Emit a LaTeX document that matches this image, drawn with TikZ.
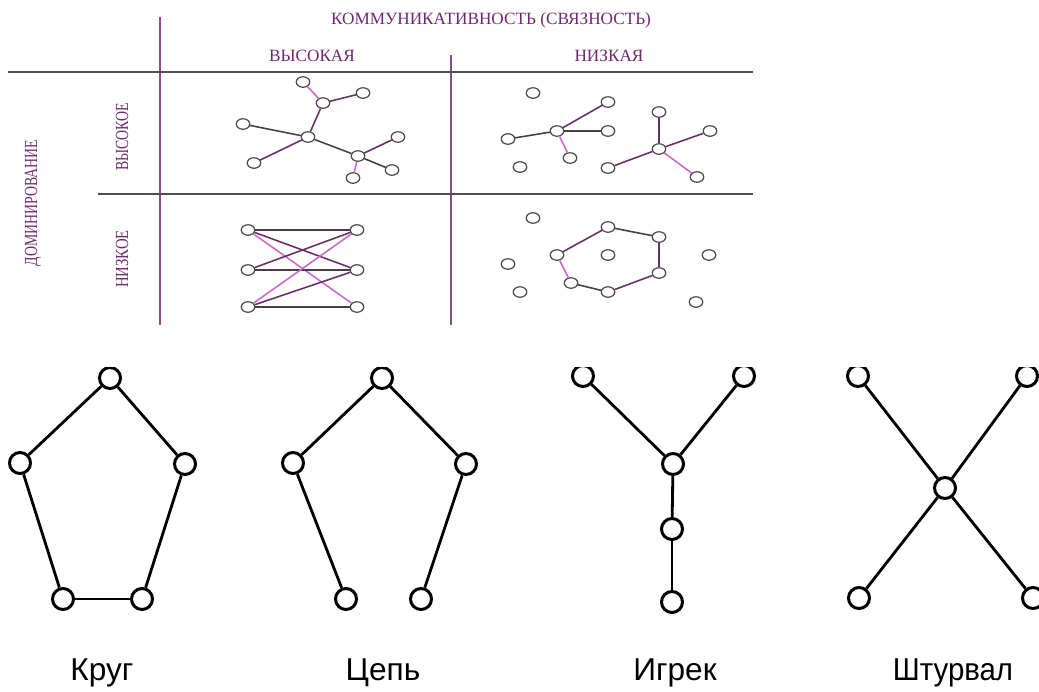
\documentclass[tikz,border=0pt]{standalone}
\usepackage{fontspec}
\usepackage{graphicx}
\setmainfont{Liberation Serif}
\newfontfamily\capfont{Liberation Sans}
\usetikzlibrary{shapes.geometric}
\definecolor{CText}{HTML}{6E2870}
\definecolor{CRule}{HTML}{8E4A8E}
\definecolor{CGrid}{HTML}{4F4F4F}
\definecolor{CDark}{HTML}{4A3C4A}
\definecolor{CPurple}{HTML}{6A2F6A}
\definecolor{CPink}{HTML}{CC6ACC}
\definecolor{CNode}{HTML}{4A4A4A}

\begin{document}
\begin{tikzpicture}[x=0.02cm, y=-0.02cm,
    vtx/.style={ellipse, draw=CNode, fill=white, line width=0.7pt, minimum width=0.27cm, minimum height=0.21cm, inner sep=0pt},
    bigvtx/.style={circle, draw=black, fill=white, line width=1.7pt, minimum size=0.42cm, inner sep=0pt},
    edark/.style={CDark, line width=0.9pt},
    epurple/.style={CPurple, line width=0.9pt},
    epink/.style={CPink, line width=0.9pt},
    bigedge/.style={black, line width=1.6pt},
    head/.style={text=CText, font=\fontsize{9.8}{11}\selectfont, inner sep=0pt},
    sidehead/.style={text=CText, font=\fontsize{10.5}{12}\selectfont, inner sep=0pt, rotate=90},
    capt/.style={font=\capfont\fontsize{18}{20}\selectfont, inner sep=0pt}]
    \useasboundingbox (0,0) rectangle (1039,691);

    % Table rules
    \draw[CRule, line width=0.9pt] (160,17) -- (160,325);
    \draw[CRule, line width=0.9pt] (451,55) -- (451,325);
    \draw[CGrid, line width=0.9pt] (8,72) -- (753,72);
    \draw[CGrid, line width=0.9pt] (98,194) -- (753,194);

    % Headings
    \node[head] (comm) at (491,20) {КОММУНИКАТИВНОСТЬ (СВЯЗНОСТЬ)};
    \node[head] (commhi) at (312,56) {ВЫСОКАЯ};
    \node[head] (commlo) at (609,56) {НИЗКАЯ};
    \node[sidehead] (dom) at (33,203) {\scalebox{0.75}[1]{ДОМИНИРОВАНИЕ}};
    \node[sidehead] (domhi) at (122,137) {\scalebox{0.75}[1]{ВЫСОКОЕ}};
    \node[sidehead] (domlo) at (122,259) {\scalebox{0.8}[1]{НИЗКОЕ}};

    % High communication, high domination
    \node[vtx] (hh1) at (303,82) {};
    \node[vtx] (hh2) at (323,103) {};
    \node[vtx] (hh3) at (363,93) {};
    \node[vtx] (hh4) at (243,124) {};
    \node[vtx] (hh0) at (308,137) {};
    \node[vtx] (hh5) at (254,163) {};
    \node[vtx] (hh6) at (358,156) {};
    \node[vtx] (hh7) at (398,137) {};
    \node[vtx] (hh8) at (392,170) {};
    \node[vtx] (hh9) at (353,178) {};
    \draw[epink] (hh1) -- (hh2);
    \draw[epurple] (hh2) -- (hh3);
    \draw[epurple] (hh2) -- (hh0);
    \draw[edark] (hh4) -- (hh0);
    \draw[epurple] (hh0) -- (hh5);
    \draw[edark] (hh0) -- (hh6);
    \draw[epurple] (hh6) -- (hh7);
    \draw[edark] (hh6) -- (hh8);
    \draw[epink] (hh6) -- (hh9);

    % Low communication, high domination
    \node[vtx] (lh1) at (533,93) {};
    \node[vtx] (lh2) at (608,102) {};
    \node[vtx] (lh0) at (557,131) {};
    \node[vtx] (lh3) at (608,131) {};
    \node[vtx] (lh4) at (508,139) {};
    \node[vtx] (lh5) at (570,158) {};
    \node[vtx] (lh6) at (520,167) {};
    \node[vtx] (lk1) at (659,112) {};
    \node[vtx] (lk2) at (710,131) {};
    \node[vtx] (lk0) at (659,149) {};
    \node[vtx] (lk3) at (608,168) {};
    \node[vtx] (lk4) at (697,177) {};
    \draw[epurple] (lh0) -- (lh2);
    \draw[edark] (lh0) -- (lh3);
    \draw[edark] (lh0) -- (lh4);
    \draw[epink] (lh0) -- (lh5);
    \draw[epurple] (lk0) -- (lk1);
    \draw[epurple] (lk0) -- (lk2);
    \draw[epurple] (lk0) -- (lk3);
    \draw[epink] (lk0) -- (lk4);

    % High communication, low domination
    \node[vtx] (hl1) at (248,230) {};
    \node[vtx] (hl2) at (248,270) {};
    \node[vtx] (hl3) at (248,307) {};
    \node[vtx] (hr1) at (357,230) {};
    \node[vtx] (hr2) at (357,270) {};
    \node[vtx] (hr3) at (357,307) {};
    \draw[edark] (hl1) -- (hr1);
    \draw[epurple] (hl1) -- (hr2);
    \draw[epink] (hl1) -- (hr3);
    \draw[epurple] (hl2) -- (hr1);
    \draw[edark] (hl2) -- (hr2);
    \draw[epink] (hl3) -- (hr1);
    \draw[epurple] (hl3) -- (hr2);
    \draw[edark] (hl3) -- (hr3);

    % Low communication, low domination
    \node[vtx] (ll1) at (533,218) {};
    \node[vtx] (ll2) at (608,227) {};
    \node[vtx] (ll3) at (659,237) {};
    \node[vtx] (ll4) at (557,255) {};
    \node[vtx] (ll5) at (608,255) {};
    \node[vtx] (ll6) at (709,255) {};
    \node[vtx] (ll7) at (508,264) {};
    \node[vtx] (ll8) at (659,273) {};
    \node[vtx] (ll9) at (571,283) {};
    \node[vtx] (ll10) at (520,292) {};
    \node[vtx] (ll11) at (608,292) {};
    \node[vtx] (ll12) at (696,302) {};
    \draw[epurple] (ll4) -- (ll2);
    \draw[edark] (ll2) -- (ll3);
    \draw[epurple] (ll3) -- (ll8);
    \draw[epurple] (ll8) -- (ll11);
    \draw[edark] (ll11) -- (ll9);
    \draw[epink] (ll9) -- (ll4);

    % Network types
    \begin{scope}
    \clip (0,367) rectangle (1039,691);
    % Krug
    \node[bigvtx] (kt) at (110,378) {};
    \node[bigvtx] (kl) at (20,463) {};
    \node[bigvtx] (kr) at (185,464) {};
    \node[bigvtx] (kbl) at (63,599) {};
    \node[bigvtx] (kbr) at (142,599) {};
    \draw[bigedge] (kt) -- (kl);
    \draw[bigedge] (kt) -- (kr);
    \draw[bigedge] (kl) -- (kbl);
    \draw[bigedge] (kr) -- (kbr);
    \draw[bigedge] (kbl) -- (kbr);
    % Tsep
    \node[bigvtx] (ct) at (382,378) {};
    \node[bigvtx] (cl) at (293,463) {};
    \node[bigvtx] (cr) at (466,464) {};
    \node[bigvtx] (cbl) at (346,599) {};
    \node[bigvtx] (cbr) at (421,599) {};
    \draw[bigedge] (ct) -- (cl);
    \draw[bigedge] (ct) -- (cr);
    \draw[bigedge] (cl) -- (cbl);
    \draw[bigedge] (cr) -- (cbr);
    % Igrek
    \node[bigvtx] (yl) at (583,376) {};
    \node[bigvtx] (yr) at (744,376) {};
    \node[bigvtx] (yc) at (673,464) {};
    \node[bigvtx] (ym) at (672,529) {};
    \node[bigvtx] (yb) at (672,602) {};
    \draw[bigedge] (yl) -- (yc);
    \draw[bigedge] (yr) -- (yc);
    \draw[bigedge] (yc) -- (ym);
    \draw[bigedge] (ym) -- (yb);
    % Shturval
    \node[bigvtx] (wtl) at (858,376) {};
    \node[bigvtx] (wtr) at (1027,376) {};
    \node[bigvtx] (wc) at (945,488) {};
    \node[bigvtx] (wbl) at (859,598) {};
    \node[bigvtx] (wbr) at (1033,598) {};
    \draw[bigedge] (wtl) -- (wc);
    \draw[bigedge] (wtr) -- (wc);
    \draw[bigedge] (wbl) -- (wc);
    \draw[bigedge] (wbr) -- (wc);
    \end{scope}

    % Captions
    \node[capt] (krug) at (102,673) {Круг};
    \node[capt] (tsep) at (383,673) {Цепь};
    \node[capt] (igrek) at (675,673) {Игрек};
    \node[capt] (shturval) at (953,673) {\scalebox{0.93}[1]{Штурвал}};
\end{tikzpicture}
\end{document}
